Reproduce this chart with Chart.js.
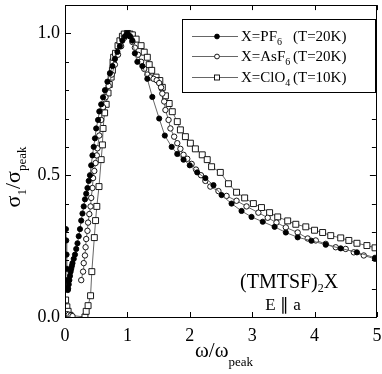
<!DOCTYPE html>
<html>
<head>
<meta charset="utf-8">
<script src="https://cdn.jsdelivr.net/npm/chart.js@4"></script>
<style>
  html, body { margin: 0; padding: 0; background: #fff; }
  #wrap { width: 382px; height: 374px; }
</style>
</head>
<body>
<div id="wrap"><canvas id="chart" width="382" height="374"></canvas></div>
<script>
// normalised conductivity sigma_1/sigma_peak vs omega/omega_peak
const pf6 = [
  [0.015,0.31],[0.02,0.27],[0.025,0.22],[0.03,0.17],[0.035,0.13],[0.04,0.10],[0.045,0.095],
  [0.05,0.10],[0.06,0.115],[0.07,0.13],[0.08,0.145],[0.09,0.16],[0.10,0.17],[0.11,0.18],
  [0.12,0.19],[0.14,0.205],[0.16,0.22],[0.18,0.24],[0.20,0.26],[0.22,0.285],[0.24,0.31],
  [0.26,0.34],[0.28,0.365],[0.30,0.39],[0.32,0.415],[0.34,0.435],[0.36,0.455],[0.38,0.48],
  [0.40,0.50],[0.42,0.535],[0.44,0.57],[0.46,0.60],[0.48,0.63],[0.50,0.665],[0.53,0.695],
  [0.55,0.725],[0.58,0.75],[0.61,0.775],[0.64,0.80],[0.68,0.83],[0.72,0.86],[0.76,0.885],
  [0.80,0.91],[0.84,0.935],[0.88,0.955],[0.92,0.975],[0.96,0.99],[1.00,1.00],[1.04,0.99],
  [1.08,0.975],[1.12,0.93],[1.16,0.90],[1.24,0.885],[1.32,0.84],[1.40,0.776],[1.51,0.70],
  [1.60,0.64],[1.71,0.60],[1.80,0.575],[1.90,0.555],[2.00,0.535],[2.12,0.51],[2.25,0.49],
  [2.38,0.465],[2.51,0.43],[2.67,0.40],[2.83,0.374],[2.99,0.353],[3.17,0.336],[3.36,0.318],
  [3.54,0.298],[3.73,0.281],[3.95,0.269],[4.18,0.255],[4.42,0.242],[4.68,0.228],[4.97,0.209]
];
const asf6 = [
  [0.03,0.01],[0.06,0.008],[0.09,0.005],[0.12,0.003],[0.2,null],
  [0.26,0.13],[0.29,0.16],[0.30,0.19],[0.32,0.217],[0.33,0.246],[0.34,0.275],[0.36,0.304],
  [0.37,0.333],[0.39,0.363],[0.41,0.39],[0.42,0.42],[0.44,0.455],[0.45,0.49],[0.47,0.515],
  [0.49,0.543],[0.51,0.57],[0.52,0.595],[0.55,0.64],[0.58,0.695],[0.61,0.74],[0.65,0.775],
  [0.70,0.815],[0.75,0.855],[0.80,0.89],[0.85,0.925],[0.90,0.955],[0.95,0.985],[1.00,1.00],
  [1.04,0.99],[1.08,0.97],[1.12,0.95],[1.17,0.925],[1.22,0.90],[1.27,0.875],[1.32,0.855],
  [1.37,0.845],[1.42,0.84],[1.47,0.835],[1.51,0.825],[1.54,0.81],[1.56,0.788],[1.59,0.76],
  [1.61,0.73],[1.66,0.695],[1.69,0.665],[1.75,0.636],[1.80,0.613],[1.85,0.593],[1.90,0.572],
  [1.96,0.558],[2.03,0.54],[2.10,0.52],[2.18,0.50],[2.25,0.48],[2.33,0.46],[2.46,0.444],
  [2.59,0.427],[2.75,0.41],[2.91,0.39],[3.10,0.368],[3.25,0.35],[3.39,0.333],[3.54,0.316],
  [3.73,0.298],[3.89,0.277],[4.02,0.27],[4.18,0.258],[4.34,0.246],[4.50,0.24],[4.63,0.228],
  [4.79,0.217],[4.97,0.205]
];
const clo4 = [
  [0.01,0.06],[0.03,0.036],[0.05,0.02],[0.08,0.006],[0.32,0.0],
  [0.34,0.02],[0.37,0.04],[0.41,0.075],[0.43,0.16],[0.47,0.28],[0.49,0.34],[0.51,0.39],
  [0.545,0.46],[0.58,0.555],[0.60,0.607],[0.61,0.665],[0.635,0.72],[0.66,0.75],[0.69,0.79],
  [0.71,0.82],[0.74,0.846],[0.76,0.87],[0.77,0.90],[0.78,0.916],[0.81,0.93],[0.85,0.957],
  [0.88,0.974],[0.92,0.99],[0.95,0.998],[1.00,1.00],[1.04,0.998],[1.08,0.995],[1.14,0.98],
  [1.22,0.957],[1.27,0.934],[1.32,0.916],[1.35,0.89],[1.39,0.87],[1.46,0.846],[1.52,0.834],
  [1.56,0.81],[1.61,0.78],[1.67,0.753],[1.72,0.724],[1.80,0.689],[1.85,0.66],[1.93,0.636],
  [2.01,0.613],[2.09,0.593],[2.20,0.572],[2.28,0.555],[2.35,0.53],[2.49,0.51],[2.62,0.47],
  [2.75,0.44],[2.88,0.42],[3.02,0.40],[3.15,0.386],[3.28,0.368],[3.41,0.353],[3.57,0.339],
  [3.70,0.327],[3.86,0.318],[4.00,0.306],[4.13,0.298],[4.26,0.287],[4.42,0.279],[4.55,0.27],
  [4.68,0.26],[4.84,0.252],[4.97,0.244]
];
const xTicks = [0, 1, 2, 3, 4, 5];
const yTicks = [0, 0.5, 1.0];
const yMinorTicks = [0, 0.1, 0.2, 0.3, 0.4, 0.5, 0.6, 0.7, 0.8, 0.9, 1.0];
const seriesNames = [
  [['X=PF', 'n'], ['6', 's']],
  [['X=AsF', 'n'], ['6', 's']],
  [['X=ClO', 'n'], ['4', 's']]
];
const seriesTemps = ['(T=20K)', '(T=20K)', '(T=10K)'];

const SERIF = '"Liberation Serif", "Times New Roman", serif';

function toXY(arr) {
  return arr.map(p => ({ x: p[0], y: p[1] }));
}

function makeSet(label, arr, style, fill, radius) {
  return {
    label: label,
    data: toXY(arr),
    showLine: true,
    spanGaps: false,
    borderColor: '#666',
    borderWidth: 1,
    pointStyle: style,
    pointRadius: radius,
    pointBackgroundColor: fill,
    pointBorderColor: '#000',
    pointBorderWidth: 0.9
  };
}

// draw text made of normal / subscript parts, returns end x
function drawRich(ctx, parts, x, y, size, subSize, subDrop) {
  parts.forEach(p => {
    if (p[1] === 's') {
      ctx.font = subSize + 'px ' + SERIF;
      ctx.fillText(p[0], x, y + subDrop);
    } else {
      ctx.font = size + 'px ' + SERIF;
      ctx.fillText(p[0], x, y);
    }
    x += ctx.measureText(p[0]).width;
  });
  return x;
}

function drawMarker(ctx, kind, x, y) {
  ctx.lineWidth = 0.9;
  ctx.strokeStyle = '#000';
  if (kind === 0 || kind === 1) {
    ctx.beginPath();
    ctx.arc(x, y, 2.4, 0, Math.PI * 2);
    ctx.fillStyle = kind === 0 ? '#000' : '#fff';
    ctx.fill();
    ctx.stroke();
  } else {
    ctx.fillStyle = '#fff';
    ctx.fillRect(x - 2.5, y - 2.5, 5, 5);
    ctx.strokeRect(x - 2.5, y - 2.5, 5, 5);
  }
}

function noPad(s) {
  s.paddingTop = 0; s.paddingBottom = 0; s.paddingLeft = 0; s.paddingRight = 0;
}

const framePlugin = {
  id: 'frame',
  afterDraw(chart) {
    const ctx = chart.ctx;
    const a = chart.chartArea;
    const xs = chart.scales.x, ys = chart.scales.y;
    ctx.save();
    ctx.strokeStyle = '#000';
    ctx.lineWidth = 1;
    ctx.strokeRect(Math.round(a.left) + 0.5, Math.round(a.top) + 0.5,
                   Math.round(a.right - a.left) - 1, Math.round(a.bottom - a.top));

    // inside ticks
    ctx.beginPath();
    xTicks.forEach(v => {
      const px = Math.round(xs.getPixelForValue(v)) + 0.5;
      ctx.moveTo(px, a.bottom); ctx.lineTo(px, a.bottom - 5);
      ctx.moveTo(px, a.top); ctx.lineTo(px, a.top + 5);
    });
    yMinorTicks.forEach(v => {
      const py = Math.round(ys.getPixelForValue(v)) + 0.5;
      const len = (Math.abs(v * 2 - Math.round(v * 2)) < 1e-6) ? 6 : 4;
      ctx.moveTo(a.left, py); ctx.lineTo(a.left + len, py);
      ctx.moveTo(a.right - 1, py); ctx.lineTo(a.right - 1 - len, py);
    });
    ctx.stroke();

    // legend box
    ctx.fillStyle = '#fff';
    ctx.fillRect(182, 19, 193, 73);
    ctx.strokeRect(182.5, 19.5, 193, 73);
    const rows = [36, 56, 77];
    rows.forEach((ry, i) => {
      ctx.strokeStyle = '#666';
      ctx.lineWidth = 1;
      ctx.beginPath();
      ctx.moveTo(192, ry + 0.5); ctx.lineTo(238, ry + 0.5);
      ctx.stroke();
      drawMarker(ctx, i, 217, ry + 0.5);
      ctx.fillStyle = '#000';
      ctx.textBaseline = 'alphabetic';
      ctx.textAlign = 'left';
      drawRich(ctx, seriesNames[i], 241, ry + 5, 15, 10, 4);
      ctx.font = '15px ' + SERIF;
      ctx.fillText(seriesTemps[i], 293, ry + 5);
    });

    // sample label
    ctx.fillStyle = '#000';
    ctx.textAlign = 'left';
    drawRich(ctx, [['(TMTSF)', 'n'], ['2', 's'], ['X', 'n']], 240, 288, 20, 12, 4);
    ctx.font = '17px ' + SERIF;
    ctx.textAlign = 'center';
    ctx.fillText('E \u2225 a', 283, 310);

    // x axis title
    ctx.textAlign = 'left';
    const xParts = [['\u03c9/\u03c9', 'n'], ['peak', 's']];
    drawRich(ctx, xParts, 195, 357, 21, 13, 9);

    // y axis title, rotated
    ctx.translate(20, 177);
    ctx.rotate(-Math.PI / 2);
    const yParts = [['\u03c3', 'n'], ['1', 's'], ['/\u03c3', 'n'], ['peak', 's']];
    let w = 0;
    yParts.forEach(p => {
      ctx.font = (p[1] === 's' ? 13 : 22) + 'px ' + SERIF;
      w += ctx.measureText(p[0]).width;
    });
    drawRich(ctx, yParts, -w / 2, 0, 22, 13, 6);
    ctx.restore();
  }
};

new Chart(document.getElementById('chart'), {
  type: 'line',
  data: {
    datasets: [
      makeSet('X=PF6 (T=20K)', pf6, 'circle', '#000', 2.6),
      makeSet('X=AsF6 (T=20K)', asf6, 'circle', '#fff', 2.7),
      makeSet('X=ClO4 (T=10K)', clo4, 'rect', '#fff', 4.2)
    ]
  },
  options: {
    responsive: false,
    animation: false,
    layout: { padding: { top: 3, right: 1, left: 0, bottom: 0 } },
    plugins: {
      legend: { display: false },
      tooltip: { enabled: false }
    },
    elements: { line: { tension: 0 } },
    scales: {
      x: {
        type: 'linear',
        min: 0,
        max: 5,
        grid: { display: false, drawTicks: false },
        border: { display: false },
        afterBuildTicks: s => { s.ticks = xTicks.map(v => ({ value: v })); },
        afterFit: s => { s.height = 57; noPad(s); },
        ticks: {
          padding: 8,
          color: '#000',
          font: { family: SERIF, size: 18 },
          callback: v => String(v)
        }
      },
      y: {
        type: 'linear',
        min: 0,
        max: 1.1,
        grid: { display: false, drawTicks: false },
        border: { display: false },
        afterBuildTicks: s => { s.ticks = yTicks.map(v => ({ value: v })); },
        afterFit: s => { s.width = 65; noPad(s); },
        ticks: {
          padding: 5,
          color: '#000',
          font: { family: SERIF, size: 18 },
          callback: v => v.toFixed(1)
        }
      }
    }
  },
  plugins: [framePlugin]
});
</script>
</body>
</html>
